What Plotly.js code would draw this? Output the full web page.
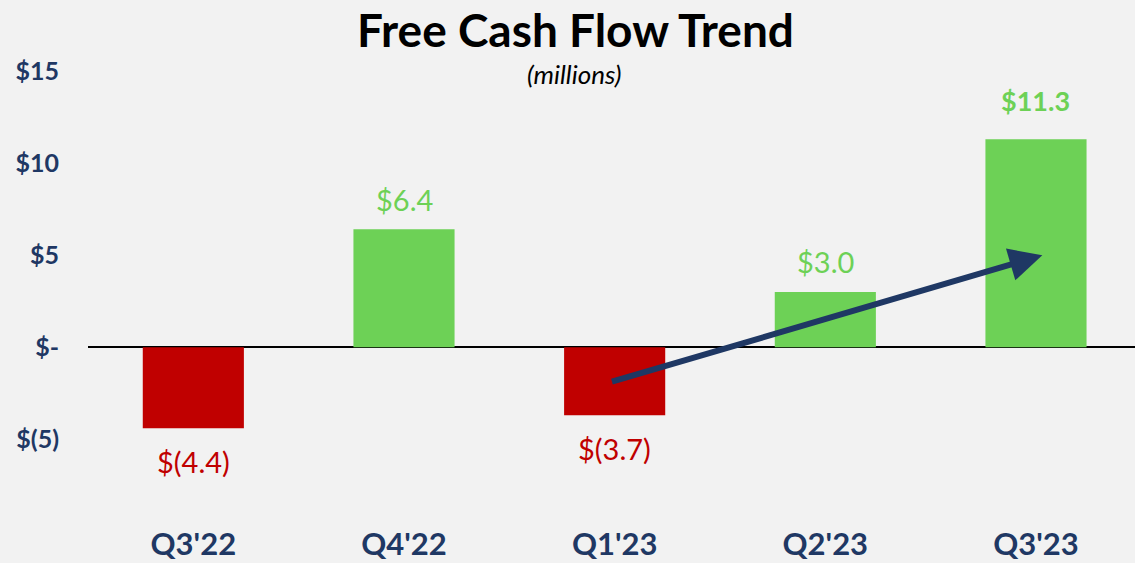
<!DOCTYPE html>
<html>
<head>
<meta charset="utf-8">
<script src="https://cdn.plot.ly/plotly-3.0.1.min.js"></script>
<style>html,body{margin:0;padding:0;background:#f2f2f2;}#chart{width:1135px;height:563px;}</style>
</head>
<body>
<div id="chart"></div>
<script>
const categories = ["Q3'22", "Q4'22", "Q1'23", "Q2'23", "Q3'23"];
const values = [-4.4, 6.4, -3.7, 3.0, 11.3];
const labels = ["$(4.4)", "$6.4", "$(3.7)", "$3.0", "$11.3"];
const boldLabel = [false, false, false, false, true];
const yTickVals = [-5, 0, 5, 10, 15];
const yTickText = ["$(5)", "$-", "$5", "$10", "$15"];
const arrowFrom = {cat: 1.98, val: -1.9};
const arrowTo = {cat: 4.03, val: 5.0};

const RED = '#c00000', GREEN = '#6dd156', NAVY = '#1f3864';
const FONT = 'Lato, "Open Sans", sans-serif';

const colors = values.map(v => v < 0 ? RED : GREEN);

const trace = {
  type: 'bar',
  x: categories,
  y: values,
  marker: {color: colors},
  width: 0.48,
  hoverinfo: 'none'
};

const annotations = values.map((v, i) => ({
  x: categories[i], y: v, xref: 'x', yref: 'y',
  text: boldLabel[i] ? '<b>' + labels[i] + '</b>' : labels[i],
  showarrow: false,
  yanchor: 'middle',
  yshift: v < 0 ? -33 : (boldLabel[i] ? 39 : 30),
  font: {family: FONT, size: boldLabel[i] ? 27 : 29, color: colors[i]}
}));

annotations.push({
  x: arrowTo.cat, y: arrowTo.val, ax: arrowFrom.cat, ay: arrowFrom.val,
  xref: 'x', yref: 'y', axref: 'x', ayref: 'y',
  text: '', showarrow: true, arrowhead: 2, arrowsize: 1.1, arrowwidth: 6,
  arrowcolor: NAVY, standoff: 0
});

annotations.push({
  x: 0.465, y: 0.97, xref: 'paper', yref: 'paper', yanchor: 'middle', xanchor: 'center',
  text: '<i>(millions)</i>', showarrow: false,
  font: {family: FONT, size: 26, color: '#000'}
});

const layout = {
  width: 1135, height: 563,
  paper_bgcolor: '#f2f2f2', plot_bgcolor: '#f2f2f2',
  margin: {l: 88, r: 0, t: 60, b: 40},
  title: {text: '<b>Free Cash Flow Trend</b>', x: 0.507, xanchor: 'center', y: 0.945, yanchor: 'middle',
          font: {family: FONT, size: 46, color: '#000'}},
  showlegend: false,
  xaxis: {
    type: 'category', range: [-0.5, 4.47], showgrid: false, zeroline: false, showline: false,
    ticks: '', tickfont: {family: FONT, size: 31, color: NAVY, weight: 'bold'},
    ticklabelstandoff: 0, fixedrange: true
  },
  yaxis: {
    range: [-9.55, 15.6], showgrid: false, zeroline: true, zerolinecolor: '#000', zerolinewidth: 2.5,
    tickvals: yTickVals, ticktext: yTickText, ticks: '', ticklabelstandoff: 28,
    tickfont: {family: FONT, size: 25, color: NAVY, weight: 'bold'}, fixedrange: true
  },
  annotations: annotations
};

Plotly.newPlot('chart', [trace], layout, {displayModeBar: false, staticPlot: true});
</script>
</body>
</html>
